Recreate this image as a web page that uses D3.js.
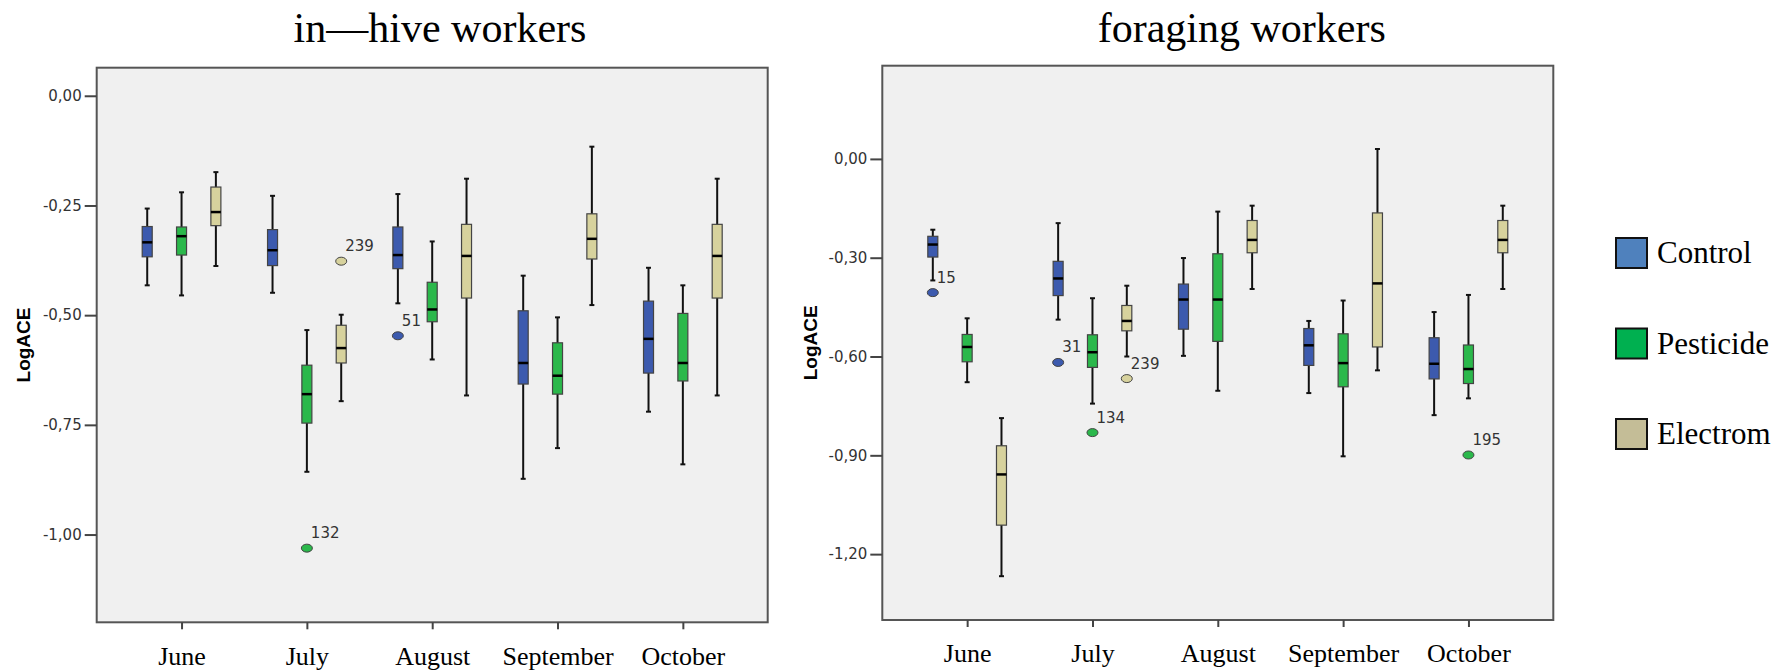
<!DOCTYPE html>
<html>
  <head>
    <meta charset="UTF-8" />
    <title>LogACE</title>
    <script src="https://d3js.org/d3.v7.min.js"></script>
    <style>
      body { margin: 0; background: #fff; }
    </style>
  </head>
  <body>
    <div id="chart"></div>

    <script>
      ///////////////////////data///////////////////////////////

      let months = ["June", "July", "August", "September", "October"];
      let groups = ["Control", "Pesticide", "Electrom"];

      // each entry: [whisker low, Q1, median, Q3, whisker high]
      let hiveControl = [
        [-0.432, -0.367, -0.334, -0.298, -0.257],
        [-0.449, -0.387, -0.352, -0.305, -0.228],
        [-0.473, -0.394, -0.363, -0.299, -0.224],
        [-0.873, -0.657, -0.609, -0.490, -0.410],
        [-0.720, -0.632, -0.554, -0.468, -0.392],
      ];
      let hivePesticide = [
        [-0.455, -0.363, -0.320, -0.299, -0.220],
        [-0.857, -0.746, -0.680, -0.614, -0.534],
        [-0.601, -0.515, -0.487, -0.425, -0.332],
        [-0.803, -0.680, -0.638, -0.563, -0.505],
        [-0.840, -0.650, -0.609, -0.496, -0.432],
      ];
      let hiveElectrom = [
        [-0.388, -0.296, -0.265, -0.208, -0.174],
        [-0.696, -0.609, -0.575, -0.523, -0.499],
        [-0.683, -0.461, -0.365, -0.293, -0.189],
        [-0.477, -0.372, -0.326, -0.269, -0.116],
        [-0.683, -0.461, -0.365, -0.293, -0.189],
      ];
      let hiveOutliers = [
        { month: "July", group: "Pesticide", value: -1.031, id: "132" },
        { month: "July", group: "Electrom", value: -0.377, id: "239" },
        { month: "August", group: "Control", value: -0.547, id: "51" },
      ];

      let forageControl = [
        [-0.369, -0.298, -0.260, -0.235, -0.215],
        [-0.488, -0.415, -0.363, -0.311, -0.195],
        [-0.598, -0.517, -0.427, -0.380, -0.301],
        [-0.711, -0.627, -0.566, -0.515, -0.492],
        [-0.778, -0.668, -0.622, -0.543, -0.465],
      ];
      let foragePesticide = [
        [-0.678, -0.616, -0.571, -0.533, -0.484],
        [-0.743, -0.633, -0.587, -0.534, -0.423],
        [-0.704, -0.554, -0.427, -0.288, -0.160],
        [-0.903, -0.692, -0.620, -0.531, -0.430],
        [-0.727, -0.682, -0.638, -0.565, -0.413],
      ];
      let forageElectrom = [
        [-1.267, -1.112, -0.958, -0.871, -0.787],
        [-0.600, -0.522, -0.492, -0.445, -0.385],
        [-0.395, -0.285, -0.246, -0.187, -0.142],
        [-0.642, -0.571, -0.378, -0.164, 0.030],
        [-0.395, -0.285, -0.246, -0.187, -0.142],
      ];
      let forageOutliers = [
        { month: "June", group: "Control", value: -0.406, id: "15" },
        { month: "July", group: "Control", value: -0.618, id: "31" },
        { month: "July", group: "Pesticide", value: -0.831, id: "134" },
        { month: "July", group: "Electrom", value: -0.667, id: "239" },
        { month: "October", group: "Pesticide", value: -0.899, id: "195" },
      ];

      let hiveTicks = [0, -0.25, -0.5, -0.75, -1.0];
      let forageTicks = [0, -0.3, -0.6, -0.9, -1.2];

      let boxColors = ["#3c5aae", "#2bb84b", "#d7d29d"];
      let legendColors = ["#4f81bd", "#00b050", "#c4bd97"];

      ///////////////////////layout///////////////////////////////

      let panels = [
        {
          title: "in\u2014hive workers",
          titleX: 440,
          x0: 96.7, x1: 767.7, y0: 67.7, y1: 622.3,
          domain: [-1.2, 0.064],
          ticks: hiveTicks,
          labelX: 30,
          series: [hiveControl, hivePesticide, hiveElectrom],
          outliers: hiveOutliers,
        },
        {
          title: "foraging workers",
          titleX: 1241.7,
          x0: 882.3, x1: 1553.3, y0: 65.7, y1: 620,
          domain: [-1.4, 0.283],
          ticks: forageTicks,
          labelX: 817,
          series: [forageControl, foragePesticide, forageElectrom],
          outliers: forageOutliers,
        },
      ];

      let W = 1779, H = 672;
      let boxW = 10;
      let fmt = (v) => d3.format(".2f")(v).replace("\u2212", "-").replace(".", ",");

      let svg = d3
        .select("#chart")
        .append("svg")
        .attr("width", W)
        .attr("height", H);

      let color = d3.scaleOrdinal().domain(groups).range(boxColors);
      let offset = d3.scaleBand().domain(groups).range([-51.5, 51.5]);

      ///////////////////////panels///////////////////////////////

      panels.forEach((p) => {
        let x = d3.scalePoint().domain(months).range([p.x0, p.x1]).padding(0.677);
        let y = d3.scaleLinear().domain(p.domain).range([p.y1, p.y0]);
        let cx = (m, g) => x(m) + offset(g) + offset.bandwidth() / 2;

        let g = svg.append("g");

        // title
        g.append("text")
          .attr("x", p.titleX)
          .attr("y", 42)
          .attr("text-anchor", "middle")
          .style("font-family", "'Liberation Serif', 'Times New Roman', serif")
          .style("font-size", "42px")
          .text(p.title);

        // plot background
        g.append("rect")
          .attr("x", p.x0)
          .attr("y", p.y0)
          .attr("width", p.x1 - p.x0)
          .attr("height", p.y1 - p.y0)
          .attr("fill", "#f0f0f0")
          .attr("stroke", "#555")
          .attr("stroke-width", 2);

        // y axis
        let yAxis = g
          .append("g")
          .attr("transform", `translate(${p.x0},0)`)
          .call(d3.axisLeft(y).tickValues(p.ticks).tickFormat(fmt).tickSize(12).tickPadding(3));
        yAxis.select(".domain").remove();
        yAxis.selectAll(".tick line").attr("stroke", "#444").attr("stroke-width", 2);
        yAxis
          .selectAll(".tick text")
          .attr("fill", "#333")
          .style("font-family", "'DejaVu Sans', Verdana, sans-serif")
          .style("font-size", "15px");

        // x axis
        let xAxis = g
          .append("g")
          .attr("transform", `translate(0,${p.y1})`)
          .call(d3.axisBottom(x).tickSize(7).tickPadding(17));
        xAxis.select(".domain").remove();
        xAxis.selectAll(".tick line").attr("stroke", "#444").attr("stroke-width", 2);
        xAxis
          .selectAll(".tick text")
          .attr("fill", "#000")
          .style("font-family", "'Liberation Serif', 'Times New Roman', serif")
          .style("font-size", "26px");

        // y label
        g.append("text")
          .attr("transform", `translate(${p.labelX},${(p.y0 + p.y1) / 2}) rotate(-90)`)
          .attr("text-anchor", "middle")
          .style("font-family", "'Liberation Sans', Arial, sans-serif")
          .style("font-weight", "bold")
          .style("font-size", "19px")
          .text("LogACE");

        // boxes
        let rows = [];
        groups.forEach((grp, gi) => {
          p.series[gi].forEach((s, mi) => {
            rows.push({ month: months[mi], group: grp, lo: s[0], q1: s[1], med: s[2], q3: s[3], hi: s[4] });
          });
        });

        let box = g.selectAll(".box").data(rows).enter().append("g").attr("class", "box");

        box.append("line")
          .attr("x1", (d) => cx(d.month, d.group))
          .attr("x2", (d) => cx(d.month, d.group))
          .attr("y1", (d) => y(d.hi))
          .attr("y2", (d) => y(d.lo))
          .attr("stroke", "#111")
          .attr("stroke-width", 2);

        box.selectAll(".cap")
          .data((d) => [d.lo, d.hi].map((v) => ({ ...d, v })))
          .enter()
          .append("line")
          .attr("x1", (d) => cx(d.month, d.group) - 2.5)
          .attr("x2", (d) => cx(d.month, d.group) + 2.5)
          .attr("y1", (d) => y(d.v))
          .attr("y2", (d) => y(d.v))
          .attr("stroke", "#111")
          .attr("stroke-width", 2);

        box.append("rect")
          .attr("x", (d) => cx(d.month, d.group) - boxW / 2)
          .attr("y", (d) => y(d.q3))
          .attr("width", boxW)
          .attr("height", (d) => y(d.q1) - y(d.q3))
          .attr("fill", (d) => color(d.group))
          .attr("stroke", "#444")
          .attr("stroke-width", 1.2);

        box.append("line")
          .attr("x1", (d) => cx(d.month, d.group) - boxW / 2)
          .attr("x2", (d) => cx(d.month, d.group) + boxW / 2)
          .attr("y1", (d) => y(d.med))
          .attr("y2", (d) => y(d.med))
          .attr("stroke", "#000")
          .attr("stroke-width", 2.5);

        // outliers
        let out = g.selectAll(".out").data(p.outliers).enter().append("g");
        out.append("ellipse")
          .attr("cx", (d) => cx(d.month, d.group))
          .attr("cy", (d) => y(d.value))
          .attr("rx", 5.5)
          .attr("ry", 4)
          .attr("fill", (d) => color(d.group))
          .attr("stroke", "#444")
          .attr("stroke-width", 1);
        out.append("text")
          .attr("x", (d) => cx(d.month, d.group) + 4)
          .attr("y", (d) => y(d.value) - 10)
          .attr("fill", "#333")
          .style("font-family", "'DejaVu Sans', Verdana, sans-serif")
          .style("font-size", "15px")
          .text((d) => d.id);
      });

      ///////////////////////legend///////////////////////////////

      let legend = svg
        .selectAll(".legend")
        .data(groups)
        .enter()
        .append("g")
        .attr("class", "legend")
        .attr("transform", (d, i) => `translate(1616,${238 + i * 90.5})`);

      legend.append("rect")
        .attr("width", 31)
        .attr("height", 30)
        .attr("fill", (d, i) => legendColors[i])
        .attr("stroke", "#111")
        .attr("stroke-width", 2);

      legend.append("text")
        .attr("x", 41)
        .attr("y", 25)
        .style("font-family", "'Liberation Serif', 'Times New Roman', serif")
        .style("font-size", "31px")
        .text((d) => d);
    </script>
  </body>
</html>
